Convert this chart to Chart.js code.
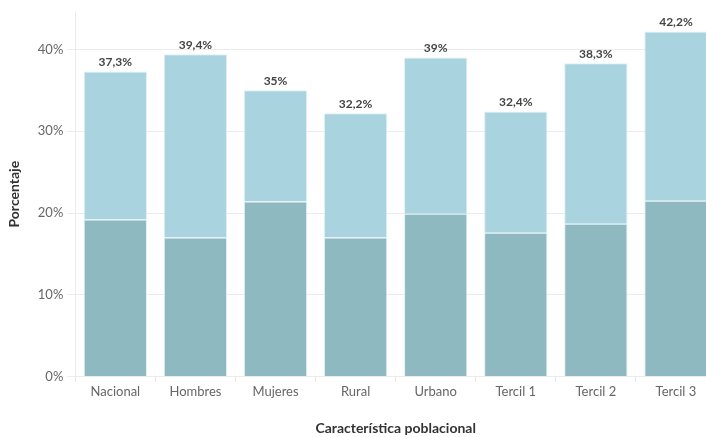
<!DOCTYPE html>
<html>
<head>
<meta charset="utf-8">
<script src="https://cdn.jsdelivr.net/npm/chart.js@4"></script>
<style>
  html, body { margin: 0; padding: 0; background: #fff; overflow: hidden; }
  #wrap { width: 716px; height: 437px; }
</style>
</head>
<body>
<div id="wrap"><canvas id="grafico"></canvas></div>
<script>
const categorias = ['Nacional', 'Hombres', 'Mujeres', 'Rural', 'Urbano', 'Tercil 1', 'Tercil 2', 'Tercil 3'];
const totales = [37.3, 39.4, 35, 32.2, 39, 32.4, 38.3, 42.2];
const parteBaja = [19.2, 17.0, 21.4, 17.0, 19.9, 17.6, 18.7, 21.5];
const parteAlta = totales.map((t, i) => +(t - parteBaja[i]).toFixed(1));
const ticksY = [0, 10, 20, 30, 40];

const fmt = v => String(v).replace('.', ',') + '%';

// etiquetas de total encima de cada barra
const etiquetasTotales = {
  id: 'etiquetasTotales',
  afterDatasetsDraw(chart) {
    const ctx = chart.ctx;
    const meta = chart.getDatasetMeta(1);
    ctx.save();
    ctx.font = 'bold 12px Lato';
    ctx.fillStyle = '#444';
    ctx.textAlign = 'center';
    ctx.textBaseline = 'bottom';
    meta.data.forEach((bar, i) => {
      ctx.fillText(fmt(totales[i]), bar.x, bar.y - 3);
    });
    ctx.restore();
  }
};

new Chart(document.getElementById('grafico'), {
  type: 'bar',
  data: {
    labels: categorias,
    datasets: [{
      data: parteBaja,
      backgroundColor: '#8fb9c0',
      borderColor: 'rgba(220,238,242,0.9)',
      borderWidth: 1,
      borderSkipped: 'bottom'
    }, {
      data: parteAlta,
      backgroundColor: '#a8d3df',
      borderColor: 'rgba(220,238,242,0.9)',
      borderWidth: 1,
      borderSkipped: 'bottom'
    }]
  },
  options: {
    responsive: true,
    maintainAspectRatio: false,
    animation: false,
    layout: { padding: { top: 5, left: 2, right: 0, bottom: 0 } },
    datasets: { bar: { barPercentage: 0.79, categoryPercentage: 1 } },
    plugins: { legend: { display: false }, tooltip: { enabled: false } },
    scales: {
      x: {
        stacked: true,
        grid: { display: true, drawOnChartArea: false, color: '#e6e6e6', tickLength: 5 },
        border: { color: '#ebebeb' },
        ticks: { color: '#666', font: { family: 'Lato', size: 13 }, padding: 2 },
        title: {
          display: true,
          text: 'Característica poblacional',
          color: '#333',
          font: { family: 'Lato', size: 14, weight: 'bold' },
          padding: { top: 19, bottom: 0 }
        }
      },
      y: {
        stacked: true,
        min: 0,
        max: 44.6,
        afterBuildTicks: s => { s.ticks = ticksY.map(v => ({ value: v })); },
        grid: { color: '#ececec', tickLength: 8 },
        border: { color: '#ebebeb' },
        ticks: { color: '#666', font: { family: 'Lato', size: 13 }, padding: 4, callback: v => v + '%' },
        title: {
          display: true,
          text: 'Porcentaje',
          color: '#333',
          font: { family: 'Lato', size: 14, weight: 'bold' },
          padding: { bottom: 11 }
        }
      }
    }
  },
  plugins: [etiquetasTotales]
});
</script>
</body>
</html>
